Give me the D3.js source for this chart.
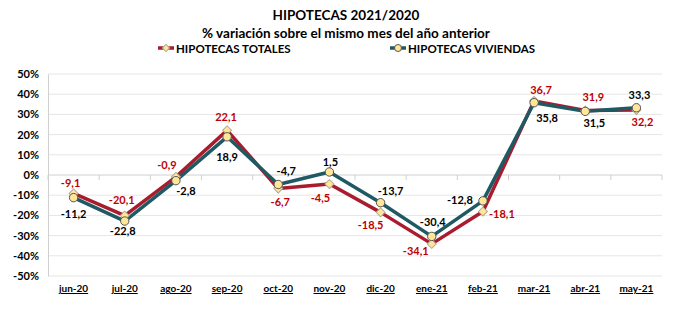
<!DOCTYPE html>
<html>
<head>
<meta charset="utf-8">
<script src="https://cdn.jsdelivr.net/npm/d3@7"></script>
<style>
  body { margin: 0; background: #fff; }
  text { font-family: Lato, "Open Sans", sans-serif; font-weight: bold; }
</style>
</head>
<body>
<script>
const months = ['jun-20', 'jul-20', 'ago-20', 'sep-20', 'oct-20', 'nov-20', 'dic-20', 'ene-21', 'feb-21', 'mar-21', 'abr-21', 'may-21']
const totales = [-9.1, -20.1, -0.9, 22.1, -6.7, -4.5, -18.5, -34.1, -18.1, 36.7, 31.9, 32.2]
const viviendas = [-11.2, -22.8, -2.8, 18.9, -4.7, 1.5, -13.7, -30.4, -12.8, 35.8, 31.5, 33.3]
const yTicks = [50, 40, 30, 20, 10, 0, -10, -20, -30, -40, -50]

// label offsets from the point (label centre), in px
const offTotales = [[-3, -10], [-3, -16], [-9, -12], [-1, -13], [2, 13], [-9, 14], [-10, 13], [-16, 7], [19, 2], [7, -11], [8, -14], [6, 12]]
const offViviendas = [[0, 16], [-2, 10], [10, 10], [0, 20], [8, -13], [1, -10], [10, -12], [1, -14], [-23, -1], [13, 15], [9, 12], [3, -13]]

const m = { width: 676, height: 326, left: 48, right: 662, top: 74, bottom: 276 }

const svg = d3.select('body').append('svg')
    .attr('width', m.width)
    .attr('height', m.height)

const x = d3.scaleBand().domain(months).range([m.left, m.right])
const y = d3.scaleLinear().domain([-50, 50]).range([m.bottom, m.top])

// titles
svg.append('text').attr('x', 346).attr('y', 20).attr('text-anchor', 'middle')
    .attr('font-size', 13.5).text('HIPOTECAS 2021/2020')
svg.append('text').attr('x', 346).attr('y', 38).attr('text-anchor', 'middle')
    .attr('font-size', 13.5).text('% variación sobre el mismo mes del año anterior')

// gridlines
svg.append('g').selectAll('line')
    .data(yTicks)
    .enter()
    .append('line')
        .attr('x1', m.left).attr('x2', m.right)
        .attr('y1', d => y(d)).attr('y2', d => y(d))
        .attr('stroke', d => d === 0 ? '#d0d0d0' : '#e6e6e6')
        .attr('stroke-width', 1)

// y axis
const yAxis = svg.append('g')
    .attr('transform', `translate(${m.left},0)`)
    .call(d3.axisLeft(y).tickValues(yTicks).tickSize(0).tickPadding(9).tickFormat(d => d + '%'))
yAxis.select('.domain').attr('stroke', '#d0d0d0')
yAxis.selectAll('text').attr('font-size', 11).attr('fill', '#000')

// category ticks on the zero line
svg.append('g').selectAll('line')
    .data(months.concat(['end']))
    .enter()
    .append('line')
        .attr('x1', (d, i) => m.left + i * x.step()).attr('x2', (d, i) => m.left + i * x.step())
        .attr('y1', y(0)).attr('y2', y(0) + 5)
        .attr('stroke', '#d0d0d0')

// x labels
svg.append('g').selectAll('text')
    .data(months)
    .enter()
    .append('text')
        .attr('x', d => x(d) + x.bandwidth() / 2)
        .attr('y', 292)
        .attr('text-anchor', 'middle')
        .attr('font-size', 10)
        .attr('text-decoration', 'underline')
        .text(d => d)

const cx = i => x(months[i]) + x.bandwidth() / 2
const line = d3.line().x((d, i) => cx(i)).y(d => y(d))

svg.append('path').datum(totales)
    .attr('d', line).attr('fill', 'none')
    .attr('stroke', '#a81c2e').attr('stroke-width', 3.5).attr('stroke-linejoin', 'round')
svg.append('path').datum(viviendas)
    .attr('d', line).attr('fill', 'none')
    .attr('stroke', '#1f5a64').attr('stroke-width', 3.5).attr('stroke-linejoin', 'round')

// markers (square turned 45deg = diamond)
const diamond = d3.symbol().type(d3.symbolSquare).size(40)
svg.append('g').selectAll('path')
    .data(totales)
    .enter()
    .append('path')
        .attr('d', diamond)
        .attr('transform', (d, i) => `translate(${cx(i)},${y(d)}) rotate(45)`)
        .attr('fill', '#ffe699').attr('stroke', '#b0a890').attr('stroke-width', 1)
svg.append('g').selectAll('circle')
    .data(viviendas)
    .enter()
    .append('circle')
        .attr('cx', (d, i) => cx(i)).attr('cy', d => y(d)).attr('r', 4.2)
        .attr('fill', '#ffe699').attr('stroke', '#555').attr('stroke-width', 1)

// data labels
function labels(data, off, color) {
    svg.append('g').selectAll('text')
        .data(data)
        .enter()
        .append('text')
            .attr('x', (d, i) => cx(i) + off[i][0])
            .attr('y', (d, i) => y(d) + off[i][1] + 4)
            .attr('text-anchor', 'middle')
            .attr('font-size', 11)
            .attr('fill', color)
            .text(d => d.toFixed(1).replace('.', ','))
}
labels(totales, offTotales, '#c00000')
labels(viviendas, offViviendas, '#000')

// legend
function legendItem(xPos, color, sym, name) {
    const gl = svg.append('g').attr('transform', `translate(${xPos},48)`)
    gl.append('line').attr('x1', 0).attr('x2', 16).attr('stroke', color).attr('stroke-width', 3.5)
    if (sym === 'diamond') {
        gl.append('path').attr('d', d3.symbol().type(d3.symbolSquare).size(26)).attr('transform', 'translate(8,0) rotate(45)')
            .attr('fill', '#ffe699').attr('stroke', '#b0a890')
    } else {
        gl.append('circle').attr('cx', 8).attr('r', 3.5).attr('fill', '#ffe699').attr('stroke', '#555')
    }
    gl.append('text').attr('x', 18).attr('y', 4.5).attr('font-size', 11.5).text(name)
}
legendItem(158, '#a81c2e', 'diamond', 'HIPOTECAS TOTALES')
legendItem(390, '#1f5a64', 'circle', 'HIPOTECAS VIVIENDAS')
</script>
</body>
</html>
